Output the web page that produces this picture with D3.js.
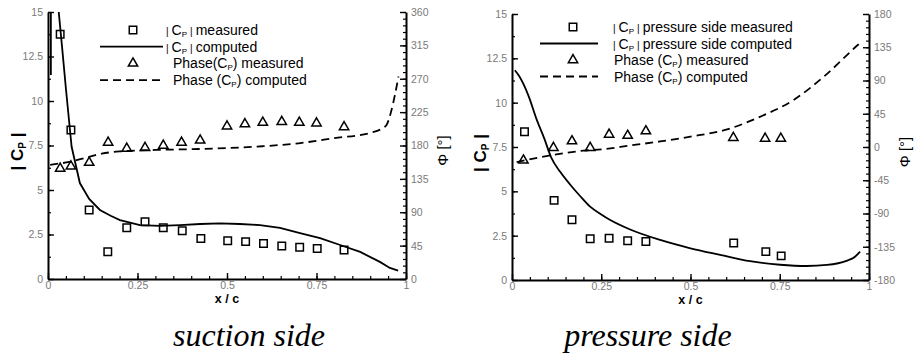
<!DOCTYPE html>
<html><head><meta charset="utf-8">
<script src="https://cdn.jsdelivr.net/npm/d3@7"></script>
<style>html,body{margin:0;padding:0;background:#fff;}svg{display:block;}</style>
</head><body>
<svg id="chart" width="918" height="364"></svg>
<script>
// ---------- DATA ----------
const xTicks = [0, 0.25, 0.5, 0.75, 1];
const cpTicks = [0, 2.5, 5, 7.5, 10, 12.5, 15];
const phaseTicksSuction = [0, 45, 90, 135, 180, 225, 270, 315, 360];
const phaseTicksPressure = [-180, -135, -90, -45, 0, 45, 90, 135, 180];

// suction side
const sucMeasX  = [0.034, 0.064, 0.115, 0.167, 0.22, 0.271, 0.322, 0.375, 0.427, 0.502, 0.552, 0.602, 0.653, 0.703, 0.752, 0.827];
const sucMeasCp = [13.75, 8.37, 3.88, 1.53, 2.88, 3.22, 2.88, 2.71, 2.28, 2.15, 2.10, 2.00, 1.85, 1.78, 1.72, 1.63];
const sucPhaseMeasX = [0.034, 0.064, 0.115, 0.168, 0.22, 0.271, 0.322, 0.373, 0.425, 0.5, 0.55, 0.6, 0.653, 0.702, 0.75, 0.827];
const sucPhaseMeas  = [149, 152, 157, 184, 176, 177, 180, 184, 187, 206, 209, 211, 212, 211, 210, 205];
const sucCompX  = [0.008, 0.008, 0.012, 0.026, 0.030, 0.039, 0.050, 0.066, 0.089, 0.115, 0.145, 0.175, 0.201, 0.257, 0.313, 0.369, 0.425, 0.48, 0.536, 0.592, 0.648, 0.704, 0.76, 0.816, 0.872, 0.927, 0.955, 0.978];
const sucCompCp = [11.46, 15.2, 16.5, 16.5, 15.0, 13.1, 10.7, 7.43, 5.39, 4.5, 3.88, 3.55, 3.31, 3.03, 2.98, 3.03, 3.09, 3.13, 3.09, 3.03, 2.87, 2.58, 2.30, 1.91, 1.52, 0.96, 0.62, 0.47];
const sucPhaseCompX = [0.006, 0.06, 0.11, 0.15, 0.2, 0.3, 0.4, 0.5, 0.6, 0.7, 0.8, 0.9, 0.93, 0.946, 0.958, 0.969, 0.979];
const sucPhaseComp  = [154, 158, 164, 169, 172, 174, 175, 176.5, 179, 183, 190, 197, 202, 208, 225, 248, 273];

// pressure side
const preMeasX  = [0.035, 0.118, 0.168, 0.219, 0.272, 0.324, 0.375, 0.621, 0.711, 0.754];
const preMeasCp = [8.36, 4.49, 3.40, 2.32, 2.36, 2.21, 2.17, 2.08, 1.60, 1.36];
const prePhaseMeasX = [0.032, 0.116, 0.168, 0.219, 0.272, 0.324, 0.375, 0.62, 0.709, 0.753];
const prePhaseMeas  = [-18, -1, 8, -1, 17, 15.5, 21.5, 12.5, 11.5, 11.5];
const preCompX  = [0.008, 0.02, 0.046, 0.07, 0.09, 0.11, 0.135, 0.162, 0.19, 0.218, 0.25, 0.274, 0.331, 0.415, 0.5, 0.583, 0.667, 0.751, 0.825, 0.882, 0.937, 0.96, 0.975];
const preCompCp = [11.83, 11.5, 10.4, 9.0, 8.0, 6.9, 6.1, 5.4, 4.75, 4.15, 3.7, 3.4, 2.85, 2.26, 1.79, 1.42, 1.06, 0.86, 0.79, 0.85, 1.08, 1.3, 1.6];
const prePhaseCompX = [0.013, 0.1, 0.2, 0.256, 0.33, 0.415, 0.5, 0.6, 0.7, 0.79, 0.88, 0.966, 0.98];
const prePhaseComp  = [-20.5, -12, -5, -3, 2, 7.5, 14, 23.5, 42, 64, 98, 137, 143];

const panels = [
  {x0: 48, x1: 406, yTop: 12, yBot: 279, phaseDom: [0, 360], phaseTicks: phaseTicksSuction,
   measX: sucMeasX, measCp: sucMeasCp, phX: sucPhaseMeasX, ph: sucPhaseMeas,
   cX: sucCompX, cCp: sucCompCp, pcX: sucPhaseCompX, pc: sucPhaseComp, smoothCp: false,
   legend: ["measured", "computed", "Phase(C", "Phase (C"],
   leg: {sx: 133, lx0: 100, lx1: 163, tx: 173, barx: 166, y0: 30, dy: 16.7},
   caption: "suction side", capX: 249, ylabX: 17, y2labX: 443, id: "a"},
  {x0: 512, x1: 869, yTop: 14, yBot: 280, phaseDom: [-180, 180], phaseTicks: phaseTicksPressure,
   measX: preMeasX, measCp: preMeasCp, phX: prePhaseMeasX, ph: prePhaseMeas,
   cX: preCompX, cCp: preCompCp, pcX: prePhaseCompX, pc: prePhaseComp, smoothCp: true,
   legend: ["pressure side measured", "pressure side computed", "Phase (C", "Phase (C"],
   leg: {sx: 573, lx0: 540, lx1: 598, tx: 614, barx: 613, y0: 27, dy: 16.5},
   caption: "pressure side", capX: 648, ylabX: 480, y2labX: 905, id: "b"}
];

const svg = d3.select("#chart");
const FONT = "'Liberation Sans', Arial, Helvetica, sans-serif";

panels.forEach(p => {
  const x = d3.scaleLinear().domain([0, 1]).range([p.x0, p.x1]);
  const y = d3.scaleLinear().domain([0, 15]).range([p.yBot, p.yTop]);
  const y2 = d3.scaleLinear().domain(p.phaseDom).range([p.yBot, p.yTop]);
  const g = svg.append("g");

  svg.append("clipPath").attr("id", "clip" + p.id).append("rect")
    .attr("x", p.x0).attr("y", p.yTop).attr("width", p.x1 - p.x0).attr("height", p.yBot - p.yTop);

  const styleAxis = sel => {
    sel.selectAll(".domain").attr("stroke", "#000").attr("stroke-width", 2);
    sel.selectAll(".tick line").attr("stroke", "#000").attr("stroke-width", 1.4);
    sel.selectAll(".tick text").attr("fill", "#7a7a7a").style("font-family", FONT).style("font-size", "10.5px");
  };
  const fmt = d => String(d);

  // minor ticks
  const minorX = d3.range(0, 1.0001, 0.05).map(v => +v.toFixed(2));
  g.append("g").attr("transform", `translate(0,${p.yBot})`)
    .call(d3.axisBottom(x).tickValues(minorX).tickSize(-3).tickSizeOuter(0).tickFormat(""))
    .call(s => { s.select(".domain").remove(); s.selectAll("line").attr("stroke", "#000").attr("stroke-width", 1.2); });
  const minorY = d3.range(0, 15.001, 1.25);
  g.append("g").attr("transform", `translate(${p.x0},0)`)
    .call(d3.axisLeft(y).tickValues(minorY).tickSize(-3).tickSizeOuter(0).tickFormat(""))
    .call(s => { s.select(".domain").remove(); s.selectAll("line").attr("stroke", "#000").attr("stroke-width", 1.2); });
  const minorY2 = d3.range(p.phaseDom[0], p.phaseDom[1] + 0.001, 9);
  g.append("g").attr("transform", `translate(${p.x1},0)`)
    .call(d3.axisRight(y2).tickValues(minorY2).tickSize(-3).tickSizeOuter(0).tickFormat(""))
    .call(s => { s.select(".domain").remove(); s.selectAll("line").attr("stroke", "#000").attr("stroke-width", 1.2); });

  // major axes
  g.append("g").attr("transform", `translate(0,${p.yBot})`)
    .call(d3.axisBottom(x).tickValues(xTicks).tickSize(-6).tickSizeOuter(0).tickPadding(3).tickFormat(fmt))
    .call(styleAxis);
  g.append("g").attr("transform", `translate(${p.x0},0)`)
    .call(d3.axisLeft(y).tickValues(cpTicks).tickSize(-6).tickSizeOuter(0).tickPadding(5).tickFormat(fmt))
    .call(styleAxis);
  g.append("g").attr("transform", `translate(${p.x1},0)`)
    .call(d3.axisRight(y2).tickValues(p.phaseTicks).tickSize(-6).tickSizeOuter(0).tickPadding(5).tickFormat(fmt))
    .call(styleAxis);

  // curves
  const plot = g.append("g").attr("clip-path", `url(#clip${p.id})`);
  const lineCp = d3.line().x(d => x(d[0])).y(d => y(d[1]))
    .curve(p.smoothCp ? d3.curveMonotoneX : d3.curveLinear);
  const linePh = d3.line().x(d => x(d[0])).y(d => y2(d[1])).curve(d3.curveMonotoneX);
  plot.append("path").datum(d3.zip(p.cX, p.cCp)).attr("d", lineCp)
    .attr("fill", "none").attr("stroke", "#000").attr("stroke-width", 1.8);
  plot.append("path").datum(d3.zip(p.pcX, p.pc)).attr("d", linePh)
    .attr("fill", "none").attr("stroke", "#000").attr("stroke-width", 1.8).attr("stroke-dasharray", "8,5");

  const sq = d3.symbol().type(d3.symbolSquare).size(56)();
  const tri = d3.symbol().type(d3.symbolTriangle).size(38)();
  g.selectAll(".sq").data(d3.zip(p.measX, p.measCp)).join("path")
    .attr("d", sq).attr("transform", d => `translate(${x(d[0])},${y(d[1])})`)
    .attr("fill", "none").attr("stroke", "#000").attr("stroke-width", 1.5);
  g.selectAll(".tri").data(d3.zip(p.phX, p.ph)).join("path")
    .attr("d", tri).attr("transform", d => `translate(${x(d[0])},${y2(d[1])})`)
    .attr("fill", "none").attr("stroke", "#000").attr("stroke-width", 1.5);

  // legend
  const L = p.leg;
  const rowY = i => L.y0 + i * L.dy;
  g.append("path").attr("d", sq).attr("transform", `translate(${L.sx},${rowY(0)})`)
    .attr("fill", "none").attr("stroke", "#000").attr("stroke-width", 1.5);
  g.append("line").attr("x1", L.lx0).attr("x2", L.lx1).attr("y1", rowY(1)).attr("y2", rowY(1))
    .attr("stroke", "#000").attr("stroke-width", 1.8);
  g.append("path").attr("d", tri).attr("transform", `translate(${L.sx},${rowY(2)})`)
    .attr("fill", "none").attr("stroke", "#000").attr("stroke-width", 1.5);
  g.append("line").attr("x1", L.lx0).attr("x2", L.lx1).attr("y1", rowY(3)).attr("y2", rowY(3))
    .attr("stroke", "#000").attr("stroke-width", 1.8).attr("stroke-dasharray", "8,5");

  const legText = (i, isCp, label) => {
    const t = g.append("text").attr("y", rowY(i) + 5).attr("x", isCp ? L.barx : L.tx)
      .style("font-family", FONT).style("font-size", "14px").attr("fill", "#000")
      .attr("xml:space", "preserve");
    if (isCp) {
      t.append("tspan").style("font-size", "10px").text("|");
      t.append("tspan").attr("dx", 3).text("C");
      t.append("tspan").style("font-size", "8px").attr("dy", 2).text("P");
      t.append("tspan").attr("dy", -2).attr("dx", 3).style("font-size", "10px").text("|");
      t.append("tspan").attr("dx", 3).text(label);
    } else {
      t.append("tspan").text(label);
      t.append("tspan").style("font-size", "8px").attr("dy", 2).text("P");
      t.append("tspan").attr("dy", -2).text(") " + (i === 2 ? "measured" : "computed"));
    }
  };
  legText(0, true, p.legend[0]);
  legText(1, true, p.legend[1]);
  legText(2, false, p.legend[2]);
  legText(3, false, p.legend[3]);

  // axis titles
  g.append("text").attr("x", (p.x0 + p.x1) / 2).attr("y", p.yBot + 24).attr("text-anchor", "middle")
    .style("font-family", FONT).style("font-size", "12.5px").style("font-weight", "bold").text("x / c");
  const yl = g.append("text").attr("transform", `translate(${p.ylabX + 6},${(p.yTop + p.yBot) / 2 + 6}) rotate(-90)`)
    .attr("text-anchor", "middle").style("font-family", FONT).style("font-size", "17px").style("font-weight", "bold");
  yl.append("tspan").text("| C");
  yl.append("tspan").style("font-size", "10px").attr("dy", 3).text("P");
  yl.append("tspan").attr("dy", -3).text(" |");
  g.append("text").attr("transform", `translate(${p.y2labX + 5},${(p.yTop + p.yBot) / 2 + 5}) rotate(-90)`)
    .attr("text-anchor", "middle").style("font-family", FONT).style("font-size", "15px").text("Φ [°]");

  // caption
  svg.append("text").attr("x", p.capX).attr("y", 346).attr("text-anchor", "middle")
    .style("font-family", "'Liberation Serif', 'Times New Roman', serif").style("font-style", "italic")
    .style("font-size", "32px").text(p.caption);
});
</script>
</body></html>
